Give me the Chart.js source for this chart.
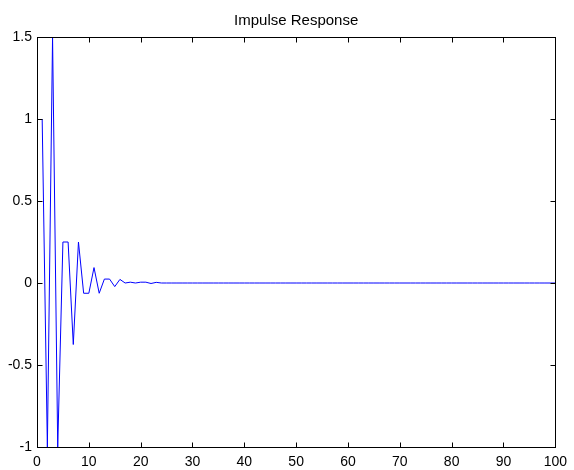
<!DOCTYPE html>
<html>
<head>
<meta charset="utf-8">
<script src="https://cdn.jsdelivr.net/npm/chart.js@4/dist/chart.umd.min.js"></script>
<style>
  html, body { margin: 0; padding: 0; background: #fff; }
  #wrap { width: 574px; height: 470px; }
</style>
</head>
<body>
<div id="wrap"><canvas id="myChart" width="574" height="470"></canvas></div>
<script>
const TITLE = 'Impulse Response';

// sample index n = 1..100
const steps = [
  1, 2, 3, 4, 5, 6, 7, 8, 9, 10,
  11, 12, 13, 14, 15, 16, 17, 18, 19, 20,
  21, 22, 23, 24, 25, 26, 27, 28, 29, 30,
  31, 32, 33, 34, 35, 36, 37, 38, 39, 40,
  41, 42, 43, 44, 45, 46, 47, 48, 49, 50,
  51, 52, 53, 54, 55, 56, 57, 58, 59, 60,
  61, 62, 63, 64, 65, 66, 67, 68, 69, 70,
  71, 72, 73, 74, 75, 76, 77, 78, 79, 80,
  81, 82, 83, 84, 85, 86, 87, 88, 89, 90,
  91, 92, 93, 94, 95, 96, 97, 98, 99, 100
];

// h[n]
const response = [
  1, -1, 1.5, -1, 0.25, 0.25, -0.375, 0.25, -0.0625, -0.0625,
  0.094, -0.0625, 0.024, 0.024, -0.022, 0.022, 0, 0.005, 0, 0.005,
  0.005, -0.003, 0.004, 0, 0, 0, 0, 0, 0, 0,
  0, 0, 0, 0, 0, 0, 0, 0, 0, 0,
  0, 0, 0, 0, 0, 0, 0, 0, 0, 0,
  0, 0, 0, 0, 0, 0, 0, 0, 0, 0,
  0, 0, 0, 0, 0, 0, 0, 0, 0, 0,
  0, 0, 0, 0, 0, 0, 0, 0, 0, 0,
  0, 0, 0, 0, 0, 0, 0, 0, 0, 0,
  0, 0, 0, 0, 0, 0, 0, 0, 0, 0
];

const xTicks = [0, 10, 20, 30, 40, 50, 60, 70, 80, 90, 100];
const yTicks = [-1, -0.5, 0, 0.5, 1, 1.5];

const FONT = "'Liberation Sans', Arial, Helvetica, sans-serif";

// matlab style frame: full box with ticks pointing inward on all four sides,
// title centred over the axes box
const boxTicks = {
  id: 'boxTicks',
  afterDatasetsDraw(chart) {
    const ctx = chart.ctx;
    const a = chart.chartArea;
    const xs = chart.scales.x, ys = chart.scales.y;
    const L = Math.round(a.left) + 0.5, R = Math.round(a.right) + 0.5;
    const T = Math.round(a.top) + 0.5, B = Math.round(a.bottom) + 0.5;
    const len = 5;
    ctx.save();
    ctx.strokeStyle = '#000';
    ctx.lineWidth = 1;
    ctx.beginPath();
    xs.ticks.forEach(t => {
      const px = Math.round(xs.getPixelForValue(t.value)) + 0.5;
      ctx.moveTo(px, B); ctx.lineTo(px, B - len);
      ctx.moveTo(px, T); ctx.lineTo(px, T + len);
    });
    ys.ticks.forEach(t => {
      const py = Math.round(ys.getPixelForValue(t.value)) + 0.5;
      ctx.moveTo(L, py); ctx.lineTo(L + len, py);
      ctx.moveTo(R, py); ctx.lineTo(R - len, py);
    });
    ctx.stroke();
    ctx.strokeRect(L, T, R - L, B - T);

    ctx.fillStyle = '#000';
    ctx.font = '15px ' + FONT;
    ctx.textAlign = 'center';
    ctx.textBaseline = 'middle';
    ctx.fillText(TITLE, (a.left + a.right) / 2, 20.5);
    ctx.restore();
  }
};

window.onload = function() {
  const ctx = document.getElementById('myChart');

  const data = {
    datasets: [{
      label: TITLE,
      data: steps.map((n, i) => ({x: n, y: response[i]})),
      borderColor: '#0000ff',
      borderWidth: 1,
      pointRadius: 0,
      tension: 0,
      fill: false
    }]
  };

  const config = {
    type: 'line',
    data: data,
    options: {
      responsive: false,
      animation: false,
      layout: { padding: { left: 0, right: 16, top: 37, bottom: 0 } },
      plugins: {
        legend: { display: false },
        tooltip: { enabled: false },
        title: { display: false }
      },
      scales: {
        x: {
          type: 'linear',
          min: 0,
          max: 100,
          grid: { display: false, drawTicks: false },
          border: { display: false },
          afterBuildTicks: s => { s.ticks = xTicks.map(v => ({value: v})); },
          afterFit: s => { s.height = 23; },
          ticks: {
            color: '#000',
            padding: 7,
            maxRotation: 0,
            font: { family: FONT, size: 14 },
            callback: v => String(v)
          }
        },
        y: {
          type: 'linear',
          min: -1,
          max: 1.5,
          grid: { display: false, drawTicks: false },
          border: { display: false },
          afterBuildTicks: s => { s.ticks = yTicks.map(v => ({value: v})); },
          afterFit: s => { s.width = 37; },
          ticks: {
            color: '#000',
            padding: 5,
            font: { family: FONT, size: 14 },
            callback: v => String(v)
          }
        }
      }
    },
    plugins: [boxTicks]
  };

  new Chart(ctx, config);
};
</script>
</body>
</html>
